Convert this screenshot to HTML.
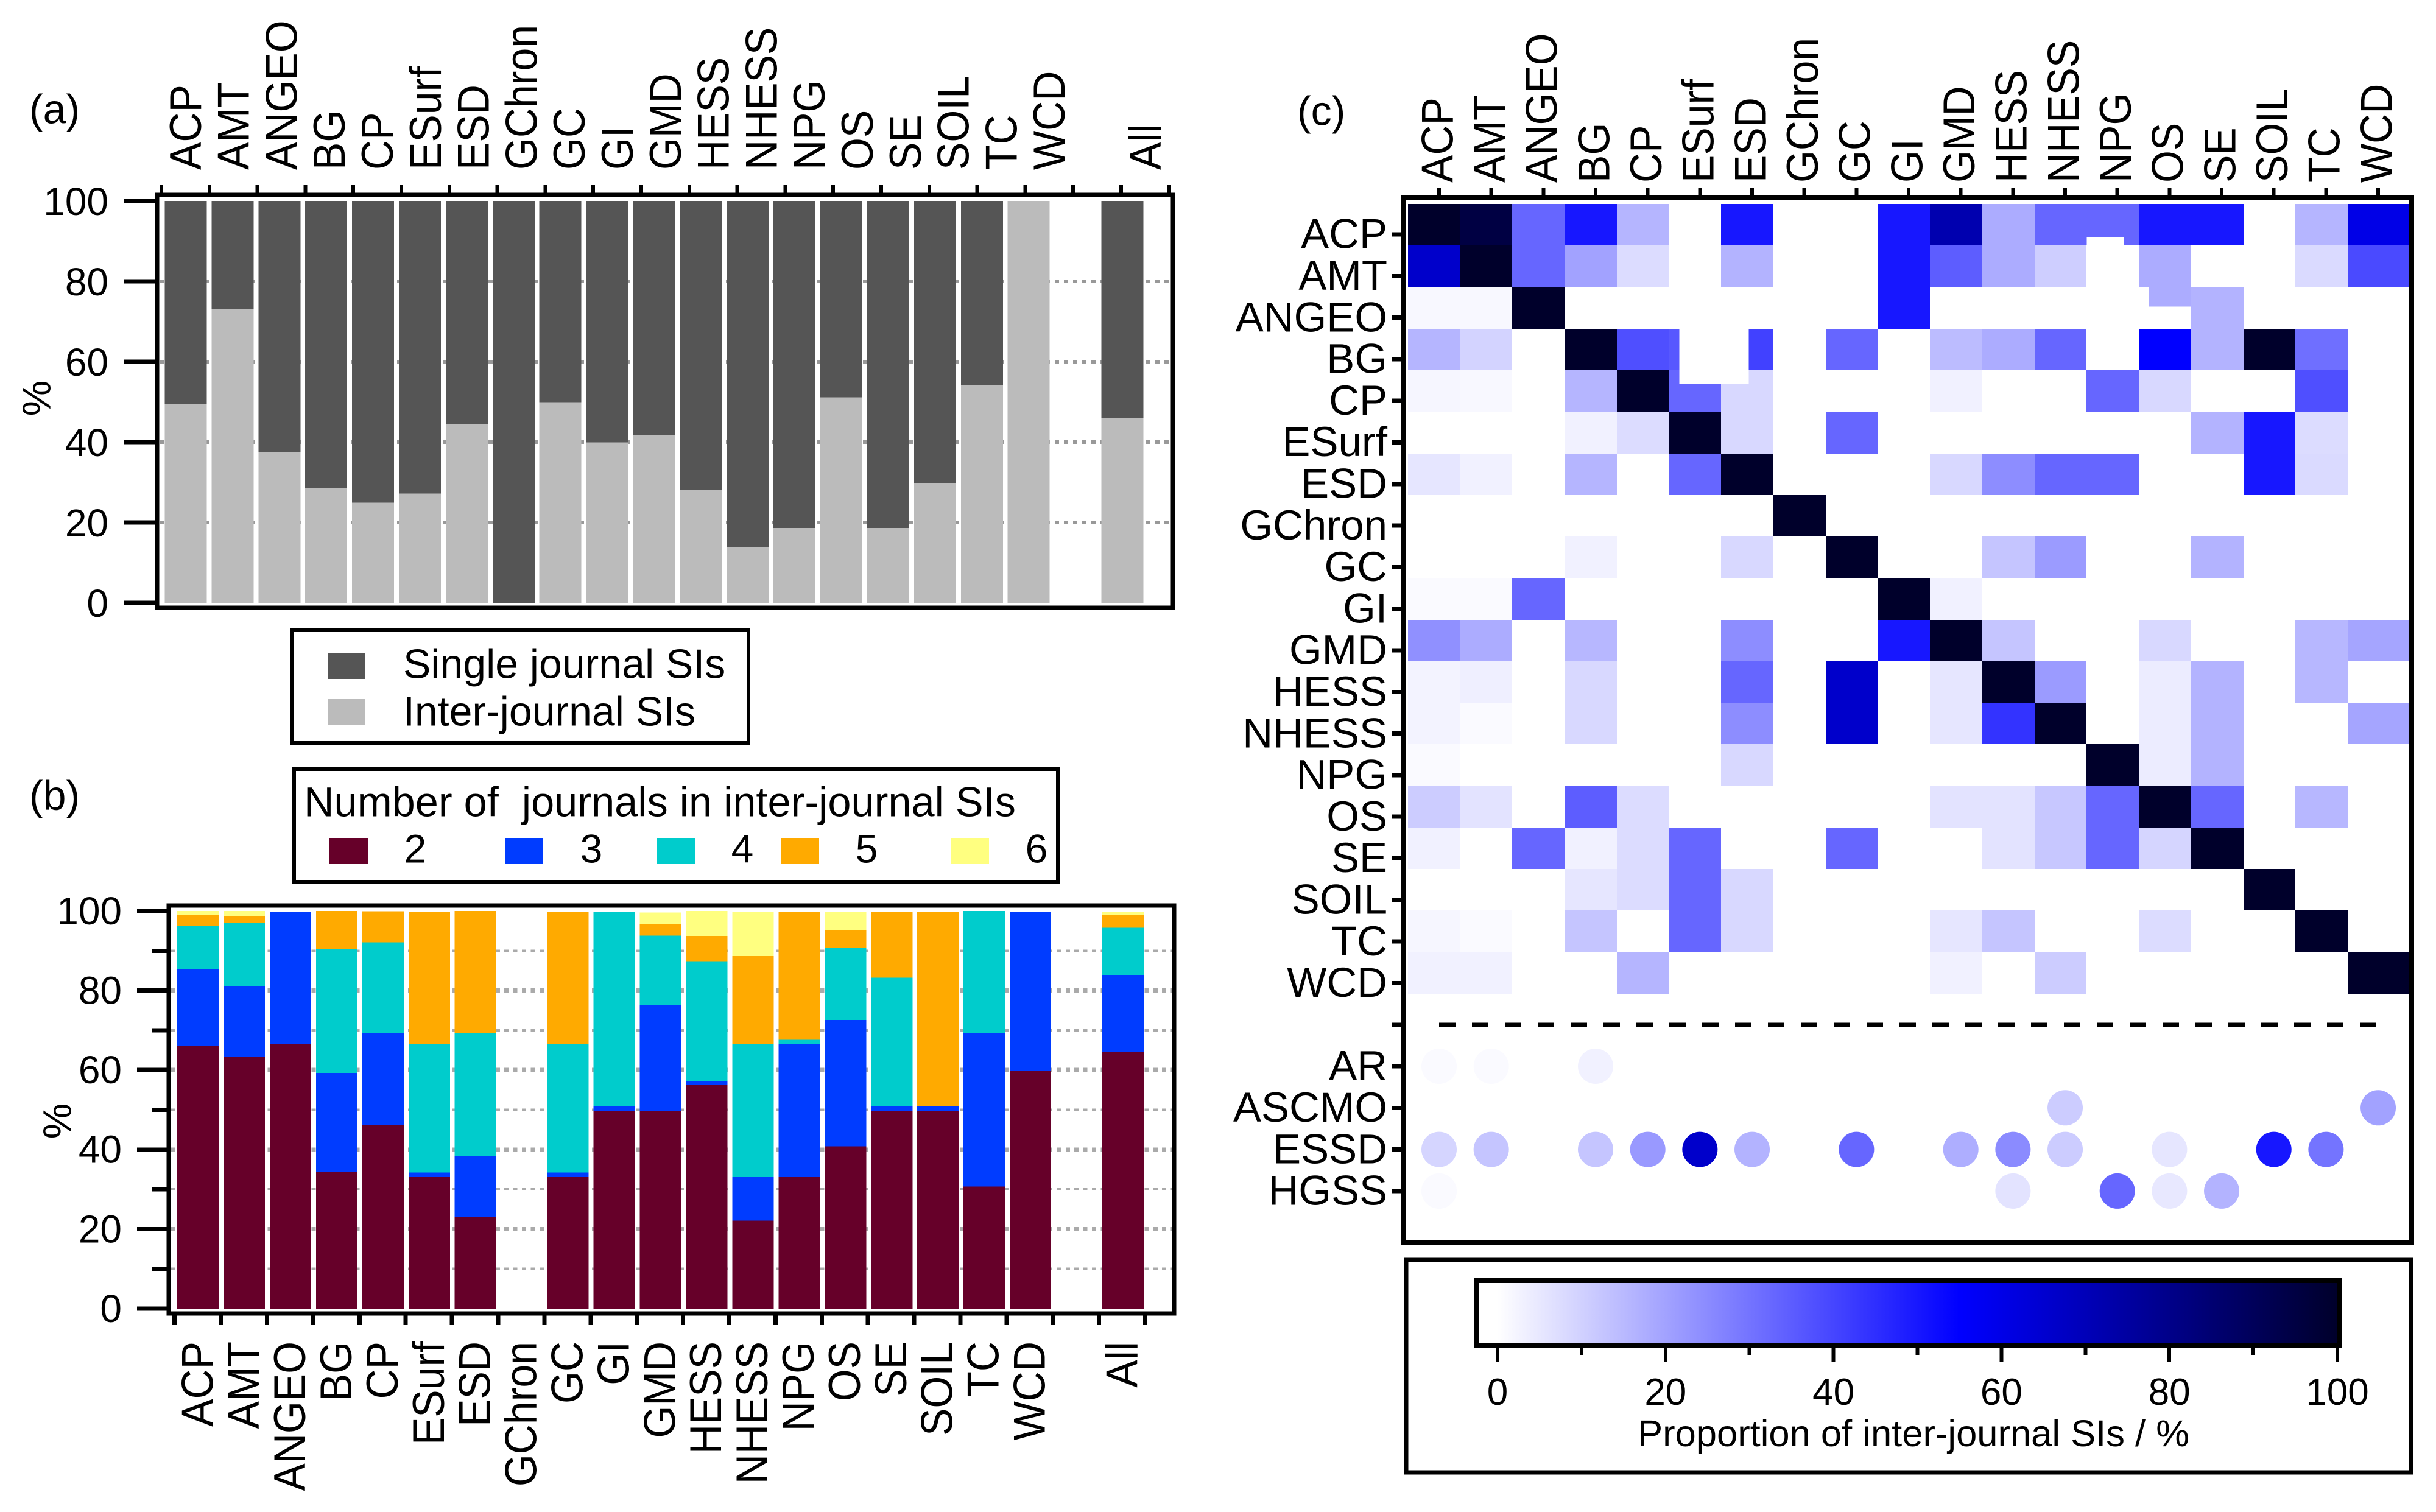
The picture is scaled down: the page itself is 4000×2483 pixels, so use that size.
<!DOCTYPE html>
<html lang="en">
<head>
<meta charset="utf-8">
<title>Special issue statistics</title>
<style>
html,body{margin:0;padding:0;background:#fff;width:4000px;height:2483px;overflow:hidden}
svg{display:block;position:absolute;left:0;top:0}
text{font-family:"Liberation Sans",Arial,sans-serif;fill:#000;white-space:pre}
</style>
</head>
<body>
<svg id="chart" xmlns="http://www.w3.org/2000/svg" width="4000" height="2483" viewBox="0 0 4000 2483">
<rect x="0" y="0" width="4000" height="2483" fill="#fff"/>
<defs>
<linearGradient id="cbGrad" gradientUnits="userSpaceOnUse" x1="2459" x2="3838" y1="0" y2="0">
<stop offset="0" stop-color="#ffffff"/>
<stop offset="0.55" stop-color="#0000ff"/>
<stop offset="1" stop-color="#00002b"/>
</linearGradient>
</defs>
</svg>
<script>
// ---------- data ----------
const journals = ['ACP','AMT','ANGEO','BG','CP','ESurf','ESD','GChron','GC','GI','GMD','HESS','NHESS','NPG','OS','SE','SOIL','TC','WCD'];
const extraJournals = ['AR','ASCMO','ESSD','HGSS'];
const allLabel = 'All';

// Panel (a): proportion of inter-journal SIs; single-journal is the remainder
const interShare = [49.4,73.1,37.4,28.6,24.9,27.2,44.4,0,49.9,39.9,41.8,28,13.8,18.6,51.1,18.6,29.8,54.1,100];
const interShareAll = 45.9;
const ticksA = [0,20,40,60,80,100];
const gridA = [20,40,60,80];

// Panel (b): stacked share by number of journals
const numJ2 = [66.1,63.4,66.6,34.3,46.1,33.1,23,0,33.1,49.8,49.8,56.2,22.1,33.1,40.8,49.8,49.8,30.7,59.9,64.5];
const numJ3 = [19.2,17.6,33.2,25,23.1,1.1,15.3,0,1.1,1.1,26.6,1.1,11,33.4,31.8,1.1,1.1,38.55,39.95,19.4];
const numJ4 = [10.9,16.1,0,31.2,22.9,32.3,30.95,0,32.3,48.95,17.4,30.1,33.4,1.1,18.2,32.3,0,30.75,0,11.9];
const numJ5 = [2.85,1.5,0,9.5,7.8,33.2,30.75,0,33.2,0,2.95,6.3,22.2,32.1,4.4,16.65,48.95,0,0,3.25];
const numJ6 = [0.95,1.4,0,0,0,0,0,0,0,0,2.9,6.3,11,0,4.5,0,0,0,0,0.8];
const ticksBMajor = [0,20,40,60,80,100];
const ticksBMinor = [10,30,50,70,90];
const legendBLabels = ['2','3','4','5','6'];

// Panel (c): heat map rows, one value per column journal
const rowACP   = [100,95,33,50,16,0,50,0,0,50,72,18,33,33,50,50,0,16,60];
const rowAMT   = [66,100,33,20,7.5,0,16.5,0,0,50,35,18,10.5,0,18,0,0,8,39];
const rowANGEO = [1.5,1.5,100,0,0,0,0,0,0,50,0,0,0,0,18,16.5,0,0,0];
const rowBG    = [16,9.5,0,100,38,36,41,0,33,0,14.5,18,33,0,55,16.5,100,31,0];
const rowCP    = [2,1.5,0,16,100,33,8.5,0,0,0,3,0,0,33,8.5,0,0,38,0];
const rowESurf = [0,0,0,3,7.5,100,8.5,0,33,0,0,0,0,0,0,16.5,50,7.5,0];
const rowESD   = [5.5,3,0,16,0,33,100,0,0,0,8.5,24.5,33,33,0,0,50,8,0];
const rowGChron= [0,0,0,0,0,0,0,100,0,0,0,0,0,0,0,0,0,0,0];
const rowGC    = [0,0,0,3,0,0,8.5,0,100,0,0,12.5,21.5,0,0,16.5,0,0,0];
const rowGI    = [1,1,33,0,0,0,0,0,0,100,3,0,0,0,0,0,0,0,0];
const rowGMD   = [24,18,0,15.5,0,0,24.5,0,0,50,100,12.5,0,0,8.5,0,0,15.5,19.5];
const rowHESS  = [2.5,3.5,0,8.5,0,0,33,0,66,0,5.5,100,21.5,0,4,16.5,0,15.5,0];
const rowNHESS = [2.5,1,0,8.5,0,0,24.5,0,66,0,5.5,44,100,0,4,16.5,0,0,19.5];
const rowNPG   = [1,0,0,0,0,0,8.5,0,0,0,0,0,0,100,4,16.5,0,0,0];
const rowOS    = [11,6,0,35,7.5,0,0,0,0,0,6,6,12,33,100,33,0,15.5,0];
const rowSE    = [3,0,33,3,7.5,33,0,0,33,0,0,6,12,33,9,100,0,0,0];
const rowSOIL  = [0,0,0,5.5,7.5,33,8.5,0,0,0,0,0,0,0,0,0,100,0,0];
const rowTC    = [2,1,0,12.5,0,33,8.5,0,0,0,5.5,12.5,0,0,7.5,0,0,100,0];
const rowWCD   = [3,3,0,0,16,0,0,0,0,0,3,0,11,0,0,0,0,0,100];
const heatRows = [rowACP,rowAMT,rowANGEO,rowBG,rowCP,rowESurf,rowESD,rowGChron,rowGC,rowGI,rowGMD,rowHESS,rowNHESS,rowNPG,rowOS,rowSE,rowSOIL,rowTC,rowWCD];

// Data journals shown as circles
const dotAR    = [1,1,0,3,0,0,0,0,0,0,0,0,0,0,0,0,0,0,0];
const dotASCMO = [0,0,0,0,0,0,0,0,0,0,0,0,11,0,0,0,0,0,20];
const dotESSD  = [9,12.5,0,12.5,22,66,16.5,0,33,0,17.5,25,11,0,5.5,0,50,30,0];
const dotHGSS  = [1,0,0,0,0,0,0,0,0,0,0,6,0,33,5,16.5,0,0,0];
const dotRows = [dotAR,dotASCMO,dotESSD,dotHGSS];
const colorbarTicksMajor = [0,20,40,60,80,100];
const colorbarTicksMinor = [10,30,50,70,90];

// ---------- helpers ----------
const svg = document.getElementById('chart');
const NS = 'http://www.w3.org/2000/svg';
function make(tag, props){
  const e = document.createElementNS(NS, tag);
  for (const k in props) e.setAttribute(k, props[k]);
  svg.appendChild(e);
  return e;
}
function rect(x,y,w,h,fill){ return make('rect',{x:x,y:y,width:w,height:h,fill:fill,'shape-rendering':'crispEdges'}); }
function line(x1,y1,x2,y2,w,color){ return make('line',{x1:x1,y1:y1,x2:x2,y2:y2,stroke:color||'#000','stroke-width':w,'shape-rendering':'crispEdges'}); }
function hText(str,x,cy,size,anchor){
  const t = make('text',{x:x,y:cy+size*0.358,'font-size':size,'text-anchor':anchor||'start'});
  t.textContent = str;
  return t;
}
function vText(str,cx,y,size,anchor,stretch){
  const t = make('text',{x:0,y:size*0.358,'font-size':size,'text-anchor':anchor||'start',transform:'translate('+cx+' '+y+') rotate(-90) scale(1 '+(stretch||1)+')'});
  t.textContent = str;
  return t;
}
function colorOf(v){
  if (v<=55){
    const l = Math.round(255*(1-v/55));
    return 'rgb('+l+','+l+',255)';
  }
  const b = Math.round(255-212*(v-55)/45);
  return 'rgb(0,0,'+b+')';
}
function frame(x1,y1,x2,y2,w){
  const f = make('rect',{x:x1,y:y1,width:x2-x1,height:y2-y1,fill:'none',stroke:'#000','stroke-width':w,'shape-rendering':'crispEdges'});
  return f;
}
const LABEL_STRETCH = 1.08;

// ---------- panel (a) ----------
const yA = v => 990 - v*6.6;
const xBarA = i => 270.5 + i*76.9;
const xLabA = i => 303.5 + i*78.8;
const BAR_A = 69;

gridA.forEach(v=>{
  const g = line(262,yA(v),1922,yA(v),6,'#999');
  g.setAttribute('stroke-dasharray','7 8');
  
  
});
function drawBarA(i,val){
  const s = rect(xBarA(i),yA(100),BAR_A,yA(0)-yA(100),'#555555');
  
  
  const n = rect(xBarA(i),yA(val),BAR_A,yA(0)-yA(val),'#bbbbbb');
  
  
}
interShare.forEach((v,i)=>drawBarA(i,v));
drawBarA(20,interShareAll);

const frameA = frame(258,320,1926,998,7);



ticksA.forEach(v=>{
  const t = line(204,yA(v),256,yA(v),7);
  
  
  const l = hText(String(v),178,yA(v),64,'end');
  
  
});
for(let i=0;i<=21;i++){
  const x = 265 + i*78.8;
  const t = line(x,303,x,320,6);
  
  
}
journals.forEach((j,i)=>{
  const l = vText(j,xLabA(i),279,68,'start',LABEL_STRETCH);
  
  
});
const allA = vText(allLabel,xLabA(20),279,68,'start',LABEL_STRETCH);



const pctA = vText('%',59,654,66,'middle');


const tagA = hText('(a)',48,178,68);



const legA = frame(480,1035,1229,1220,6);


const swA1 = rect(538,1072,62,43,'#555555');


const swA2 = rect(538,1148,62,43,'#bbbbbb');


const ltA1 = hText('Single journal SIs',662,1089,68);


const ltA2 = hText('Inter-journal SIs',662,1167,68);



// ---------- panel (b) ----------
const yB = v => 2149 - v*6.53;
const xBarB = i => 291 + i*75.95;
const xLabB = i => 323 + i*75.9;
const BAR_B = 68;
const numSeries = [numJ2,numJ3,numJ4,numJ5,numJ6];
const numColors = ['#660029','#003cff','#00cccc','#ffaa00','#ffff80'];
const plotSlots = journals.map((_,i)=>i).concat([20]);

ticksBMinor.forEach(v=>{
  const g = line(281,yB(v),1924,yB(v),4,'#aaa');
  g.setAttribute('stroke-dasharray','7 7.4');
  
  
});
ticksBMajor.filter(v=>v>0&&v<100).forEach(v=>{
  const g = line(281,yB(v),1924,yB(v),7,'#aaa');
  g.setAttribute('stroke-dasharray','7 7.4');
  
  
});
plotSlots.forEach((slot,idx)=>{
  let acc = 0;
  numSeries.forEach((series,s)=>{
    const v = series[idx];
    if (v>0){
      const r = rect(xBarB(slot),yB(acc+v),BAR_B,yB(acc)-yB(acc+v),numColors[s]);
      
      
    }
    acc += v;
  });
});
const frameB = frame(277,1487,1928,2157,7);


ticksBMajor.forEach(v=>{
  const t = line(225,yB(v),274,yB(v),7);
  
  
  const l = hText(String(v),200,yB(v)-1,64,'end');
  
  
});
ticksBMinor.forEach(v=>{
  const t = line(249,yB(v),274,yB(v),7);
  
  
});
for(let i=0;i<=21;i++){
  const x = 286.7 + i*75.9;
  const t = line(x,2160,x,2176,7);
  
  
}
journals.forEach((j,i)=>{
  const l = vText(j,xLabB(i),2203,68,'end',LABEL_STRETCH);
  
  
});
const allB = vText(allLabel,xLabB(20),2203,68,'end',LABEL_STRETCH);


const pctB = vText('%',93,1841,66,'middle');


const tagB = hText('(b)',48,1305,68);



const legB = frame(483,1263,1737,1448,6);


const legBTitle = hText('Number of  journals in inter-journal SIs',499,1316,68.5);


const legSwatchX = [541,829,1079,1282,1561];
const legTextX = [682,971,1219,1423,1702];
legendBLabels.forEach((lab,i)=>{
  const sw = rect(legSwatchX[i],1376,63,43,numColors[i]);
  
  
  const tx = hText(lab,legTextX[i],1393,66,'middle');
  
  
});

// ---------- panel (c) ----------
const colX = i => i>=19 ? 3955 : 2312 + i*85.72;
const rowY = k => 335 + k*68.25;
const tickX = i => 2363 + i*85.67;
const tickY = k => 385 + k*68.3;
const extraY = k => 1751 + k*68.3;

heatRows.forEach((row,k)=>{
  row.forEach((v,i)=>{
    if (v>0){
      const c = rect(Math.round(colX(i)),Math.round(rowY(k)),Math.round(colX(i+1))-Math.round(colX(i)),Math.round(rowY(k+1))-Math.round(rowY(k)),colorOf(v));
      
      
    }
  });
});
// White over-painted regions present in the source figure
const patchNPG = rect(colX(13),rowY(1)-14,61,14,'#fff');


const patchOS1 = rect(colX(14),rowY(2),16,rowY(3)-rowY(2),'#fff');


const patchOS2 = rect(colX(14),rowY(2)+32,colX(15)-colX(14),rowY(3)-rowY(2)-32,'#fff');


const patchBG = rect(colX(5)+17,rowY(3),114,90,'#fff');



dotRows.forEach((row,k)=>{
  row.forEach((v,i)=>{
    if (v>0){
      const d = make('circle',{cx:tickX(i),cy:extraY(k),r:29,fill:colorOf(v)});
      
      
    }
  });
});
const sep = line(2363,1683,3902,1683,7);
sep.setAttribute('stroke-dasharray','27 27');



const frameC = frame(2304,325,3960,2041,8);



journals.forEach((j,i)=>{
  const t = line(tickX(i),309,tickX(i),322,6);
  
  
  const l = vText(j,tickX(i)-4,300,68,'start',LABEL_STRETCH);
  
  
  const yt = line(2285,tickY(i),2301,tickY(i),7);
  
  
  const yl = hText(j,2278,tickY(i)-2,69,'end');
  
  
});
const sepTick = line(2285,1683,2301,1683,7);


extraJournals.forEach((j,k)=>{
  const yt = line(2285,extraY(k),2301,extraY(k),7);
  
  
  const yl = hText(j,2278,extraY(k)-2,69,'end');
  
  
});
const tagC = hText('(c)',2130,181,68);



// colour bar
const xCb = v => 2459 + v*13.79;
const cbBox = frame(2309,2069,3959,2418,7);


const cbFill = rect(2425,2103,1417,105,'url(#cbGrad)');


const cbFrame = frame(2425,2103,3842,2209,8);


colorbarTicksMajor.forEach(v=>{
  const t = line(xCb(v),2210,xCb(v),2237,6);
  
  
  const l = hText(String(v),xCb(v),2285,62,'middle');
  
  
});
colorbarTicksMinor.forEach(v=>{
  const t = line(xCb(v),2210,xCb(v),2225,6);
  
  
});
const cbTitle = hText('Proportion of inter-journal SIs / %',3142,2353,61.5,'middle');


</script>
</body>
</html>
